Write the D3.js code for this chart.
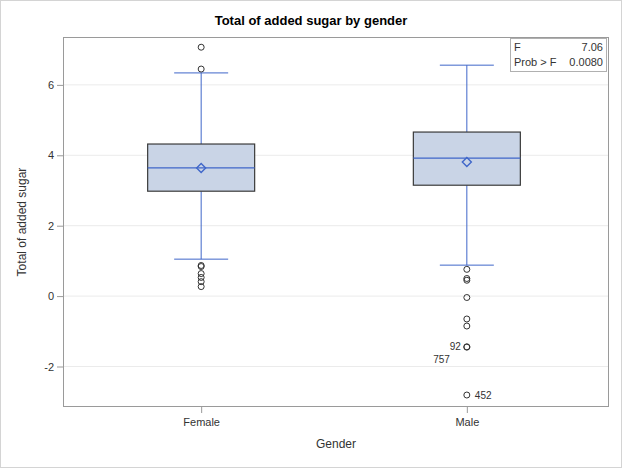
<!DOCTYPE html>
<html><head><meta charset="utf-8">
<script src="https://cdn.jsdelivr.net/npm/d3@7"></script>
<style>body{margin:0;background:#fff;font-family:"Liberation Sans",Arial,sans-serif;}</style>
</head><body>
<svg id="c" width="622" height="468"></svg>
<script>
const categories = ["Female","Male"];
const q1 = [2.98, 3.15];
const median = [3.64, 3.92];
const q3 = [4.32, 4.66];
const mean = [3.64, 3.81];
const whiskerLow = [1.05, 0.88];
const whiskerHigh = [6.34, 6.56];
const outliersFemale = [7.07, 6.45, 0.87, 0.84, 0.64, 0.53, 0.41, 0.27];
const outliersMale = [0.76, 0.5, 0.45, -0.04, -0.65, -0.85, -1.44, -1.45, -2.81];
const outlierLabels = [{cat:"Male", v:-1.44, text:"92", side:"left", dy:0},
                       {cat:"Male", v:-1.45, text:"757", side:"left2", dy:12},
                       {cat:"Male", v:-2.81, text:"452", side:"right", dy:0}];
const yTicks = [-2, 0, 2, 4, 6];
const statLabels = ["F", "Prob > F"];
const statValues = ["7.06", "0.0080"];

const svg = d3.select("#c");
const W = 622, H = 468;
const m = {l:63, r:13, t:37, b:61};
const pw = W - m.l - m.r, ph = H - m.t - m.b;

svg.append("rect").attr("x",0.5).attr("y",0.5).attr("width",W-1).attr("height",H-1)
  .attr("fill","#fff").attr("stroke","#d4d4d4");

const y = d3.scaleLinear().domain([-3.15, 7.36]).range([m.t+ph, m.t]);
const x = d3.scalePoint().domain(categories).range([m.l, m.l+pw - 4]).padding(0.52);
const xc = c => x(c);

// gridlines
svg.append("g").selectAll("line").data(yTicks).join("line")
  .attr("x1", m.l).attr("x2", m.l+pw).attr("y1", d=>y(d)).attr("y2", d=>y(d))
  .attr("stroke","#ebebeb").attr("stroke-width",1);

// frame
svg.append("rect").attr("x",m.l+0.5).attr("y",m.t+0.5).attr("width",pw-1).attr("height",ph-1)
  .attr("fill","none").attr("stroke","#9a9a9a");

// axes
const ya = svg.append("g").attr("transform",`translate(${m.l},0)`)
  .call(d3.axisLeft(y).tickValues(yTicks).tickSize(6).tickSizeOuter(0).tickFormat(d=>String(d)));
ya.select(".domain").remove();
ya.selectAll("line").attr("stroke","#9a9a9a");
ya.selectAll("text").attr("font-family","Liberation Sans, Arial").attr("font-size",11).attr("fill","#333");

const xa = svg.append("g").attr("transform",`translate(0,${m.t+ph})`)
  .call(d3.axisBottom(x).tickSize(6).tickSizeOuter(0));
xa.select(".domain").remove();
xa.selectAll("line").attr("stroke","#9a9a9a");
xa.selectAll("text").attr("font-family","Liberation Sans, Arial").attr("font-size",11).attr("fill","#333").attr("dy","0.9em");

const boxW = 107;
const blue = "#3f66c9";
categories.forEach((c,i) => {
  const cx = xc(c);
  const g = svg.append("g");
  g.append("line").attr("x1",cx).attr("x2",cx).attr("y1",y(whiskerHigh[i])).attr("y2",y(q3[i])).attr("stroke",blue);
  g.append("line").attr("x1",cx).attr("x2",cx).attr("y1",y(q1[i])).attr("y2",y(whiskerLow[i])).attr("stroke",blue);
  [whiskerHigh[i], whiskerLow[i]].forEach(v => g.append("line").attr("x1",cx-27).attr("x2",cx+27)
     .attr("y1",y(v)).attr("y2",y(v)).attr("stroke",blue));
  g.append("rect").attr("x",cx-boxW/2).attr("y",y(q3[i])).attr("width",boxW).attr("height",y(q1[i])-y(q3[i]))
    .attr("fill","#c9d4e6").attr("stroke","#3a3a3a").attr("stroke-width",1.2);
  g.append("line").attr("x1",cx-boxW/2).attr("x2",cx+boxW/2).attr("y1",y(median[i])).attr("y2",y(median[i]))
    .attr("stroke",blue).attr("stroke-width",1.3);
  g.append("path").attr("d","M0,-4.5L4.5,0L0,4.5L-4.5,0Z").attr("transform",`translate(${cx},${y(mean[i])})`)
    .attr("fill","none").attr("stroke",blue).attr("stroke-width",1.4);
  const outs = i===0 ? outliersFemale : outliersMale;
  g.selectAll("circle").data(outs).join("circle").attr("cx",cx).attr("cy",d=>y(d)).attr("r",3)
    .attr("fill","none").attr("stroke","#333").attr("stroke-width",1);
});

outlierLabels.forEach(l => {
  const cx = xc(l.cat);
  const t = svg.append("text").attr("y", y(l.v)+l.dy).attr("dy","0.35em")
    .attr("font-size",10).attr("fill","#333").text(l.text);
  if (l.side==="right") t.attr("x",cx+8);
  else if (l.side==="left") t.attr("x",cx-6).attr("text-anchor","end");
  else t.attr("x",cx-17).attr("text-anchor","end");
});

const ib = svg.append("g");
ib.append("rect").attr("x",510.5).attr("y",38.5).attr("width",96).attr("height",33).attr("fill","#fff").attr("stroke","#b0b0b0");
statLabels.forEach((s,i) => {
  ib.append("text").attr("x",514).attr("y",51+i*15).attr("font-size",11).attr("fill","#333").text(s);
  ib.append("text").attr("x",603).attr("y",51+i*15).attr("font-size",11).attr("fill","#333").attr("text-anchor","end").text(statValues[i]);
});

svg.append("text").attr("x",W/2).attr("y",25).attr("text-anchor","middle").attr("font-weight","bold")
  .attr("font-size",13).attr("fill","#000").text("Total of added sugar by gender");
svg.append("text").attr("x",m.l+pw/2).attr("y",448).attr("text-anchor","middle").attr("font-size",12).attr("fill","#333").text("Gender");
svg.append("text").attr("transform",`translate(26,${m.t+ph/2}) rotate(-90)`).attr("text-anchor","middle")
  .attr("font-size",12).attr("fill","#333").text("Total of added sugar");
</script>
</body></html>
